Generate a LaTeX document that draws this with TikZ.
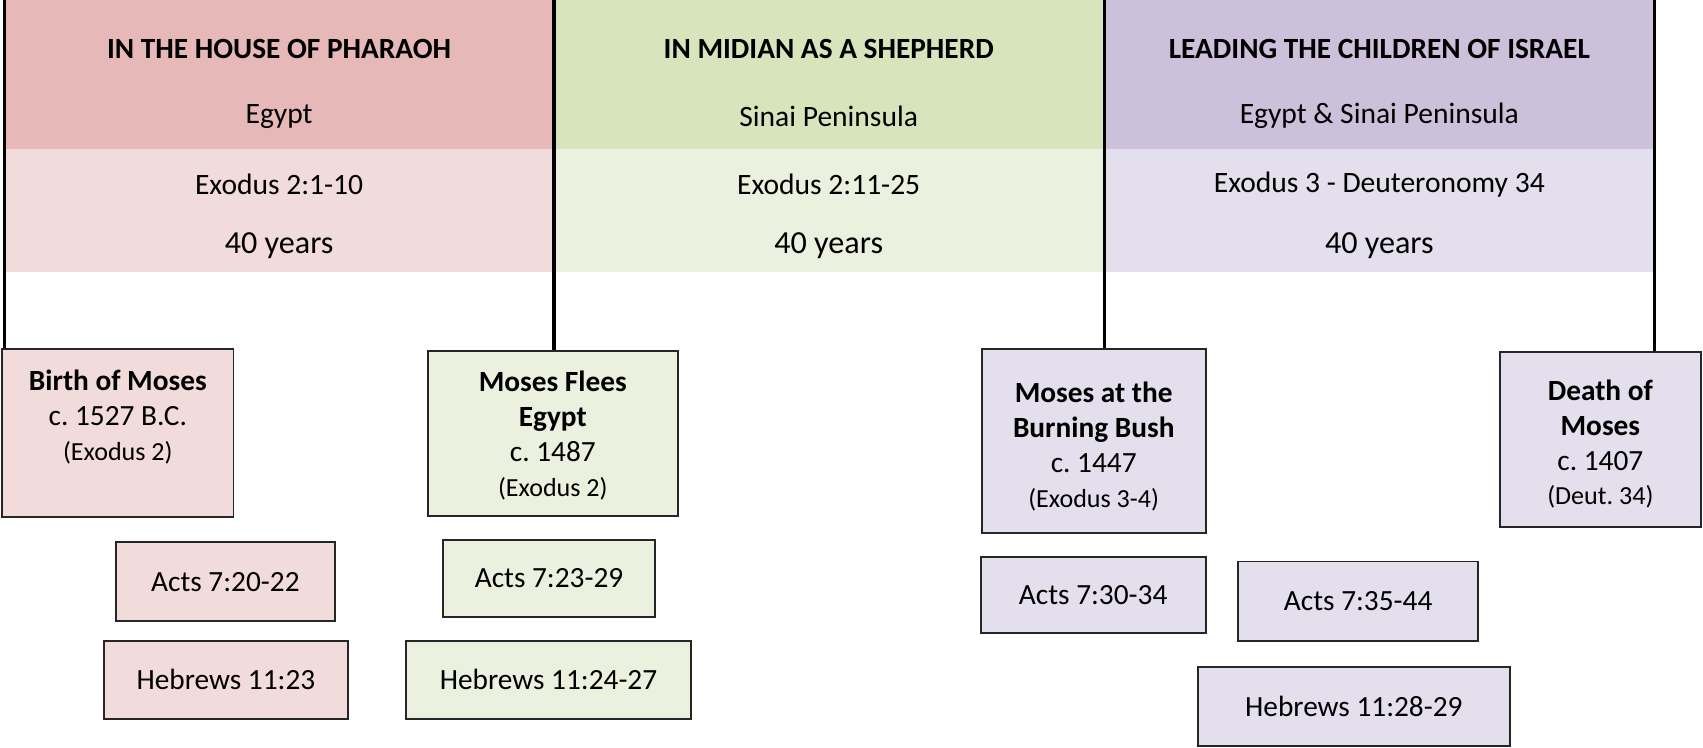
\documentclass[tikz,border=0pt]{standalone}
\usepackage{fontspec}
\setmainfont{Carlito}
\usetikzlibrary{positioning}

\definecolor{pinkdark}{HTML}{E6B8B7}
\definecolor{pinklight}{HTML}{F2DCDB}
\definecolor{greendark}{HTML}{D8E4BC}
\definecolor{greenlight}{HTML}{EBF1DE}
\definecolor{purpledark}{HTML}{CCC0DA}
\definecolor{purplelight}{HTML}{E4DFEC}
\definecolor{boxline}{HTML}{262626}

\tikzset{
  period/.style={font=\fontsize{13.5}{16}\selectfont\bfseries},
  place/.style={font=\fontsize{13.6}{16}\selectfont},
  span/.style={font=\fontsize{14.8}{17}\selectfont},
  eventbox/.style={draw=boxline, line width=0.9pt, align=center, anchor=north,
    inner sep=0pt, font=\fontsize{13.5}{16}\selectfont},
  refbox/.style={draw=boxline, line width=0.9pt, inner sep=0pt,
    font=\fontsize{13.5}{16}\selectfont},
  timeline/.style={line width=1.5pt}
}
\newcommand{\refnote}[1]{{\fontsize{12}{15}\selectfont #1}}

\begin{document}
\begin{tikzpicture}[x=0.5pt, y=-0.5pt]
        \useasboundingbox (0,0) rectangle (1568,688);
        %
        % period bands
        \fill[pinkdark] (4,0) rectangle (510,137);
        \fill[pinklight] (4,137) rectangle (510,250);
        \fill[greendark] (510,0) rectangle (1017,137);
        \fill[greenlight] (510,137) rectangle (1017,250);
        \fill[purpledark] (1017,0) rectangle (1523,137);
        \fill[purplelight] (1017,137) rectangle (1523,250);
        %
        \node[period] (pharaoh) at (257,45) {IN THE HOUSE OF PHARAOH};
        \node[place] (egypt) at (257,107) {Egypt};
        \node[place] (ex1) at (257,170) {Exodus 2:1-10};
        \node[span] (yrs1) at (257,226) {40 years};
        \node[period] (midian) at (763,45) {IN MIDIAN AS A SHEPHERD};
        \node[place] (sinai) at (763,107) {Sinai Peninsula};
        \node[place] (ex2) at (763,170) {Exodus 2:11-25};
        \node[span] (yrs2) at (763,226) {40 years};
        \node[period] (israel) at (1270,45) {LEADING THE CHILDREN OF ISRAEL};
        \node[place] (both) at (1270,107) {Egypt \& Sinai Peninsula};
        \node[place] (ex3) at (1270,170) {Exodus 3 - Deuteronomy 34};
        \node[span] (yrs3) at (1270,226) {40 years};
        %
        % events
        \node[eventbox, fill=pinklight, minimum width=106.5pt, text height=51.5pt,
          text depth=26pt] (birth) at (108.5,320)
          {\textbf{Birth of Moses}\\ c.\ 1527 B.C.\\ \refnote{(Exodus 2)}};
        \node[eventbox, fill=greenlight, minimum width=115pt, text height=67pt,
          text depth=9pt] (flees) at (509,322)
          {\textbf{Moses Flees}\\ \textbf{Egypt}\\ c.\ 1487\\ \refnote{(Exodus 2)}};
        \node[eventbox, fill=purplelight, minimum width=103pt, text height=73pt,
          text depth=12pt] (bush) at (1007,320)
          {\textbf{Moses at the}\\ \textbf{Burning Bush}\\ c.\ 1447\\ \refnote{(Exodus 3-4)}};
        \node[eventbox, fill=purplelight, minimum width=92.5pt, text height=70.5pt,
          text depth=10pt] (death) at (1473.5,323)
          {\textbf{Death of}\\ \textbf{Moses}\\ c.\ 1407\\ \refnote{(Deut.\ 34)}};
        %
        % references
        \node[refbox, fill=pinklight, minimum width=100.5pt, minimum height=36.5pt]
          (acts1) at (207.5,535.5) {Acts 7:20-22};
        \node[refbox, fill=pinklight, minimum width=112pt, minimum height=36pt]
          (heb1) at (208,626) {Hebrews 11:23};
        \node[refbox, fill=greenlight, minimum width=97.5pt, minimum height=35.5pt]
          (acts2) at (505.5,532.5) {Acts 7:23-29};
        \node[refbox, fill=greenlight, minimum width=131pt, minimum height=36pt]
          (heb2) at (505,626) {Hebrews 11:24-27};
        \node[refbox, fill=purplelight, minimum width=103.5pt, minimum height=35pt]
          (acts3) at (1006.5,548) {Acts 7:30-34};
        \node[refbox, fill=purplelight, minimum width=110.5pt, minimum height=36.5pt]
          (acts4) at (1250.5,553.5) {Acts 7:35-44};
        \node[refbox, fill=purplelight, minimum width=143.5pt, minimum height=36.5pt]
          (heb3) at (1246.5,650.5) {Hebrews 11:28-29};
        %
        % period dividers
        \coordinate (d0) at (4,0);
        \coordinate (d1) at (510,0);
        \coordinate (d2) at (1017,0);
        \coordinate (d3) at (1523,0);
        \draw[timeline] (d0) -- (d0 |- birth.north);
        \draw[timeline] (d1) -- (d1 |- flees.north);
        \draw[timeline] (d2) -- (d2 |- bush.north);
        \draw[timeline] (d3) -- (d3 |- death.north);
\end{tikzpicture}
\end{document}
